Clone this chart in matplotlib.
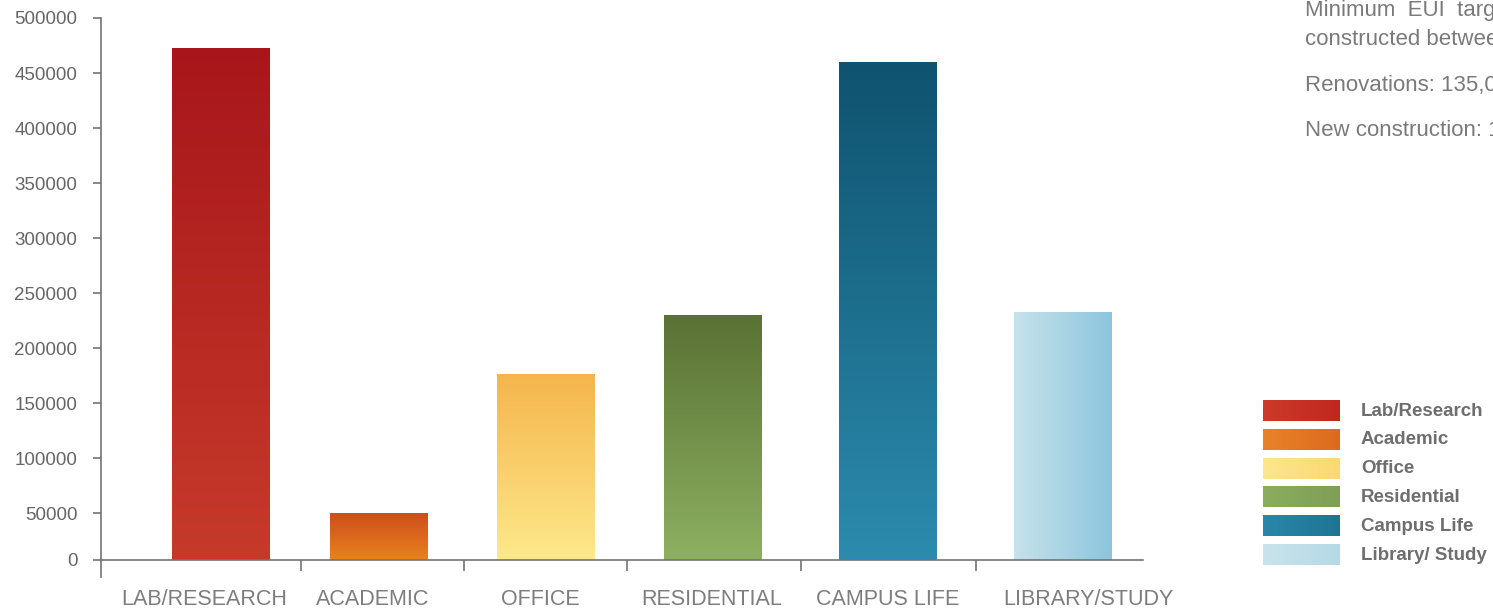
import numpy as np
import matplotlib
matplotlib.use("Agg")
import matplotlib.pyplot as plt
from matplotlib.colors import LinearSegmentedColormap

# data
categories = ['LAB/RESEARCH', 'ACADEMIC', 'OFFICE', 'RESIDENTIAL', 'CAMPUS LIFE', 'LIBRARY/STUDY']
values = [473000, 50000, 176000, 230000, 460000, 233000]
legend_labels = ['Lab/Research', 'Academic', 'Office', 'Residential', 'Campus Life', 'Library/ Study']
ytick_values = [50000, 100000, 150000, 200000, 250000, 300000, 350000, 400000, 450000, 500000]
note_lines = ['Minimum  EUI  target for buildings',
              'constructed between 2010 and 2020:',
              'Renovations: 135,000 Btu/sf',
              'New construction: 100,000 Btu/sf']

# styles: (top colour, bottom colour) for bars, (left, right) for legend swatches
bar_grad = [('#a8161b', '#c63a2a'), ('#cf4d1c', '#e8831f'), ('#f5b54c', '#fde98b'),
            ('#5a7235', '#8db061'), ('#0f536f', '#2c8bae'), ('#c6e2eb', '#8cc5dc')]
legend_grad = [('#cc3a2a', '#c0281f'), ('#e8832a', '#dc6a1e'), ('#fde68c', '#fbd872'),
               ('#8bad5e', '#7e9f55'), ('#2a87a9', '#1f7495'), ('#c9e3ec', '#b5d9e5')]

# layout (pixel units)
W, H = 1493, 611
bar_x = [221, 379, 546, 713, 888, 1063]
label_x = [204, 373, 540, 712, 888, 1088]
sep_x = [301, 464, 627, 801, 976]
bar_w = 98
y_floor = 7300  # value at the drawn baseline

gray = '#737373'
plt.rcParams['font.family'] = ['Liberation Sans', 'DejaVu Sans']

fig = plt.figure(figsize=(W / 100, H / 100), dpi=100)
ax = fig.add_axes([101 / W, 51 / H, (1143 - 101) / W, 542 / H])

for i, (xc, v) in enumerate(zip(bar_x, values)):
    rect = ax.bar(xc, v, width=bar_w, color='none', zorder=2)[0]
    c0, c1 = bar_grad[i]
    cmap = LinearSegmentedColormap.from_list('g%d' % i, [c0, c1])
    if i == 5:
        grad = np.linspace(0, 1, 256).reshape(1, -1)  # horizontal
    else:
        grad = np.linspace(0, 1, 256).reshape(-1, 1)  # top -> bottom
    im = ax.imshow(grad, cmap=cmap, aspect='auto', zorder=2,
                   extent=[xc - bar_w / 2, xc + bar_w / 2, y_floor, v], origin='upper')
    im.set_clip_path(rect)

ax.set_xlim(101, 1143)
ax.set_ylim(y_floor, 500000)

for s in ['top', 'right']:
    ax.spines[s].set_visible(False)
for s in ['left', 'bottom']:
    ax.spines[s].set_color(gray)
    ax.spines[s].set_linewidth(1.2)

ax.set_yticks([y_floor] + ytick_values)
ax.set_yticklabels(['0'] + [str(t) for t in ytick_values])
ax.tick_params(axis='y', length=6, width=1.2, color=gray, pad=11,
               labelsize=13.5, labelcolor='#666666')

ax.set_xticks(label_x)
ax.set_xticklabels(categories)
ax.set_xticks(sep_x, minor=True)
ax.tick_params(axis='x', which='major', length=0, pad=21, labelsize=15.5, labelcolor='#7d7d7d')
ax.tick_params(axis='x', which='minor', length=8, width=1.2, color=gray)
ax.plot([0, 0], [0, -17 / 542], transform=ax.transAxes, color=gray, lw=1.2, clip_on=False)

# legend
lax = fig.add_axes([0, 0, 1, 1], facecolor='none')
lax.axis('off')
for i, lab in enumerate(legend_labels):
    top = 400 + i * 28.8
    c0, c1 = legend_grad[i]
    cmap = LinearSegmentedColormap.from_list('l%d' % i, [c0, c1])
    lax.imshow(np.linspace(0, 1, 64).reshape(1, -1), cmap=cmap, aspect='auto',
               extent=[1263, 1340, top + 21, top])
    lax.text(1361, top + 11, lab, fontsize=13.5, fontweight='bold', color='#6e6e6e',
             va='center', ha='left')
lax.set_xlim(0, W)
lax.set_ylim(H, 0)

# note text, clipped by the figure edge as in the source
for line, base in zip(note_lines, [16, 45, 91, 136]):
    fig.text(1305 / W, 1 - base / H, line, fontsize=16, color='#7a7a7a',
             ha='left', va='baseline')

fig.savefig('out.png', dpi=100)
